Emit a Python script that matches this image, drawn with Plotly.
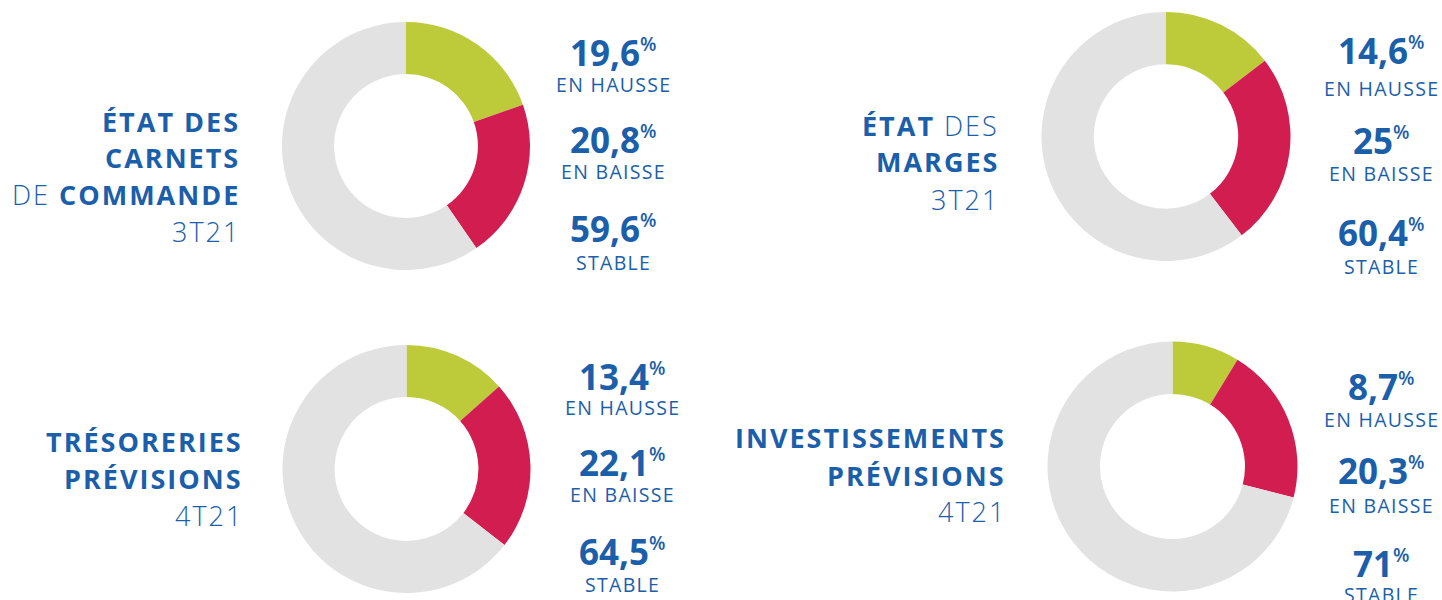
import plotly.graph_objects as go

W, H = 1442, 600

# ---- data ----
categories = ["EN HAUSSE", "EN BAISSE", "STABLE"]
hausse = [19.6, 14.6, 13.4, 8.7]
baisse = [20.8, 25.0, 22.1, 20.3]
stable = [59.6, 60.4, 64.5, 71.0]
value_labels = [
    ["19,6", "20,8", "59,6"],
    ["14,6", "25", "60,4"],
    ["13,4", "22,1", "64,5"],
    ["8,7", "20,3", "71"],
]
# title lines: list of (text, bold) segments
titles = [
    [[("ÉTAT DES", True)], [("CARNETS", True)], [("DE ", False), ("COMMANDE", True)], [("3T21", False)]],
    [[("ÉTAT", True), (" DES", False)], [("MARGES", True)], [("3T21", False)]],
    [[("TRÉSORERIES", True)], [("PRÉVISIONS", True)], [("4T21", False)]],
    [[("INVESTISSEMENTS", True)], [("PRÉVISIONS", True)], [("4T21", False)]],
]

# ---- styling / layout (pixel positions) ----
colors = ["#BDCB3A", "#D21D50", "#E2E2E2"]
BLUE = "#1B5EA9"
FONT = "Open Sans"
panels = [
    dict(cx=406, cy=146, r=124, tx=242, ty=[121, 157, 195, 231], col=613, ny=[52, 139, 229], ly=[85, 172, 262]),
    dict(cx=1166, cy=136.5, r=124.5, tx=1001, ty=[125, 161, 199], col=1381, ny=[50, 140, 233], ly=[88, 173, 266]),
    dict(cx=406.5, cy=469, r=124, tx=245, ty=[441, 478, 515], col=622, ny=[376, 462, 551], ly=[407, 494, 584]),
    dict(cx=1172.5, cy=466.5, r=125, tx=1008, ty=[437, 475, 511], col=1381, ny=[386, 470, 563], ly=[419, 505, 594]),
]

def px(x):
    return x / W

def py(y):
    return 1 - y / H

fig = go.Figure()
annotations = []

for i, p in enumerate(panels):
    vals = [hausse[i], baisse[i], stable[i]]
    fig.add_trace(go.Pie(
        values=vals,
        labels=categories,
        sort=False,
        direction="clockwise",
        rotation=0,
        hole=0.58,
        marker=dict(colors=colors, line=dict(width=0)),
        textinfo="none",
        hoverinfo="label+value",
        showlegend=False,
        domain=dict(x=[px(p["cx"] - p["r"]), px(p["cx"] + p["r"])],
                    y=[py(p["cy"] + p["r"]), py(p["cy"] - p["r"])]),
    ))

    # titles
    for line, yy in zip(titles[i], p["ty"]):
        parts = []
        for txt, bold in line:
            if bold:
                parts.append(f'<span style="font-weight:700;letter-spacing:2px">{txt}</span>')
            else:
                parts.append(f'<span style="font-weight:300;letter-spacing:2px">{txt}</span>')
        annotations.append(dict(
            x=px(p["tx"]), y=py(yy), xref="paper", yref="paper",
            xanchor="right", yanchor="middle", showarrow=False,
            text="".join(parts),
            font=dict(family=FONT, size=27, color=BLUE),
        ))

    # values and labels
    for k in range(3):
        annotations.append(dict(
            x=px(p["col"]), y=py(p["ny"][k]), xref="paper", yref="paper",
            xanchor="center", yanchor="middle", showarrow=False,
            text=f'<b>{value_labels[i][k]}</b><sup><span style="font-size:19px;font-weight:600">%</span></sup>',
            font=dict(family=FONT, size=35, color=BLUE),
        ))
        annotations.append(dict(
            x=px(p["col"]), y=py(p["ly"][k]), xref="paper", yref="paper",
            xanchor="center", yanchor="middle", showarrow=False,
            text=f'<span style="letter-spacing:1.3px">{categories[k]}</span>',
            font=dict(family=FONT, size=19.5, color=BLUE),
        ))

fig.update_layout(
    width=W, height=H,
    margin=dict(l=0, r=0, t=0, b=0),
    paper_bgcolor="white",
    plot_bgcolor="white",
    annotations=annotations,
)

fig.write_html(
    "out.html",
    config={"displayModeBar": False},
    post_script="document.body.style.margin='0px';document.body.style.overflow='hidden';",
)
